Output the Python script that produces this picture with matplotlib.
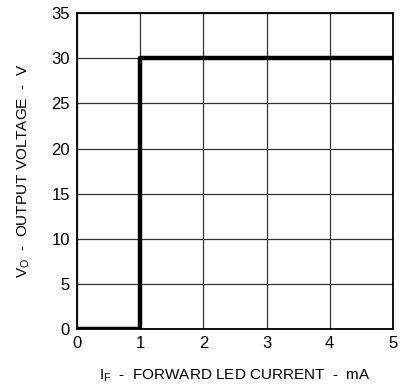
import matplotlib.pyplot as plt
from matplotlib import font_manager

# Data
current_ma = [0, 1, 1, 5]
output_v = [0, 0, 30, 30]
x_ticks = [0, 1, 2, 3, 4, 5]
y_ticks = [0, 5, 10, 15, 20, 25, 30, 35]

names = {f.name for f in font_manager.fontManager.ttflist}
narrow = "Liberation Sans Narrow" if "Liberation Sans Narrow" in names else "Liberation Sans"
plt.rcParams['font.family'] = [narrow, 'DejaVu Sans']

fig = plt.figure(figsize=(4.03, 3.91), dpi=100)
ax = fig.add_axes([0.191, 0.159, 0.784, 0.807])

ax.plot(current_ma, output_v, color="black", lw=3.2, solid_capstyle="butt", zorder=3)

ax.set_xlim(0, 5)
ax.set_ylim(0, 35)
ax.set_xticks(x_ticks)
ax.set_yticks(y_ticks)
ax.grid(True, color="#333333", lw=0.9)
ax.tick_params(length=0, labelsize=12, pad=5)
for s in ax.spines.values():
    s.set_linewidth(1.3)

ax.set_xlabel("I$_\\mathregular{F}$  -  FORWARD LED CURRENT  -  mA", fontsize=11, labelpad=12)
ax.set_ylabel("V$_\\mathregular{O}$  -  OUTPUT VOLTAGE  -  V", fontsize=11, labelpad=14)

fig.savefig("out.png", dpi=100)
